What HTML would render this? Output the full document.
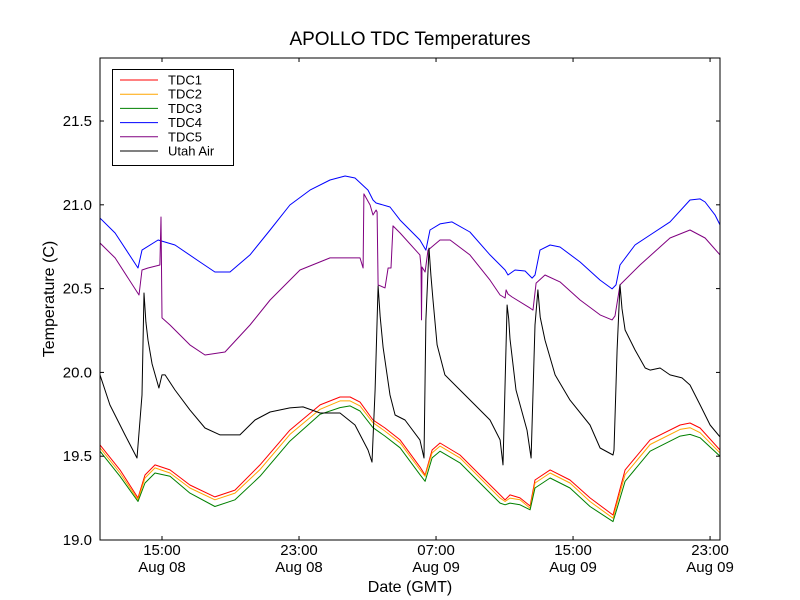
<!DOCTYPE html>
<html><head><meta charset="utf-8"><style>
body{margin:0;background:#fff;}
svg{display:block;font-family:"Liberation Sans","DejaVu Sans",sans-serif;}
</style></head><body>
<svg id="chart" width="800" height="600">
<rect x="0" y="0" width="800" height="600" fill="#fff"/>
<text x="410" y="45" font-size="19" text-anchor="middle">APOLLO TDC Temperatures</text>
<text x="54" y="299" font-size="16" text-anchor="middle" transform="rotate(-90 54 299)">Temperature (C)</text>
<text x="410" y="592" font-size="16" text-anchor="middle">Date (GMT)</text>
<g id="plot"></g>
</svg>
<script>
const xTicks=[15,23,31,39,47];
const xTickTimes=["15:00","23:00","07:00","15:00","23:00"];
const xTickDates=["Aug 08","Aug 08","Aug 09","Aug 09","Aug 09"];
const yTicks=[19.0,19.5,20.0,20.5,21.0,21.5];
const seriesNames=["TDC1","TDC2","TDC3","TDC4","TDC5","Utah Air"];
const tdcTimes=[11.38,12.55,13.60,14.01,14.59,15.47,16.63,18.09,19.26,20.72,22.47,24.23,25.39,25.98,26.56,27.32,28.02,28.90,30.06,30.36,30.77,31.23,32.40,33.57,34.74,35.03,35.32,35.90,36.49,36.78,37.66,38.82,39.99,41.33,41.57,42.04,43.50,45.25,45.83,46.42,47.58];
const tdc1=[19.567,19.418,19.251,19.388,19.448,19.418,19.328,19.257,19.298,19.448,19.656,19.806,19.853,19.853,19.823,19.716,19.668,19.597,19.436,19.388,19.537,19.579,19.507,19.388,19.269,19.239,19.269,19.251,19.203,19.358,19.418,19.358,19.251,19.149,19.239,19.418,19.597,19.686,19.698,19.668,19.537];
const tdc2=[19.55,19.40,19.24,19.37,19.43,19.40,19.31,19.24,19.28,19.42,19.63,19.78,19.83,19.83,19.80,19.70,19.65,19.58,19.42,19.38,19.52,19.56,19.49,19.37,19.25,19.23,19.25,19.24,19.19,19.34,19.40,19.34,19.23,19.13,19.22,19.39,19.57,19.66,19.67,19.64,19.52];
const tdc3=[19.53,19.38,19.23,19.34,19.40,19.38,19.28,19.20,19.24,19.38,19.59,19.75,19.79,19.80,19.77,19.67,19.62,19.55,19.39,19.35,19.49,19.53,19.46,19.34,19.22,19.21,19.22,19.21,19.18,19.31,19.37,19.31,19.20,19.11,19.19,19.35,19.53,19.62,19.63,19.61,19.50];
const tdc4Times=[11.38,12.26,13.60,13.83,14.77,15.76,17.22,18.09,18.97,20.14,21.31,22.47,23.64,24.81,25.69,26.27,27.03,27.32,27.50,28.31,28.90,30.06,30.41,30.65,31.23,31.93,32.98,34.15,35.03,35.20,35.61,36.20,36.61,36.78,37.07,37.66,38.24,39.41,40.58,41.28,41.51,41.74,42.62,43.50,44.66,45.83,46.42,46.71,47.29,47.58];
const tdc4=[20.921,20.832,20.623,20.730,20.790,20.760,20.659,20.599,20.599,20.701,20.850,20.999,21.088,21.148,21.172,21.160,21.088,21.029,21.011,20.987,20.909,20.790,20.730,20.850,20.886,20.898,20.838,20.701,20.611,20.581,20.611,20.605,20.563,20.581,20.730,20.760,20.748,20.659,20.551,20.498,20.522,20.641,20.760,20.820,20.898,21.029,21.035,21.017,20.940,20.880];
const tdc5Times=[11.38,12.26,13.66,13.83,14.18,14.88,14.94,15.00,15.47,16.63,17.51,18.68,20.14,21.31,23.06,24.81,26.56,26.74,26.79,27.15,27.32,27.50,27.56,27.62,28.02,28.20,28.37,28.49,28.90,30.06,30.12,30.15,30.18,30.36,30.53,31.23,31.82,32.98,34.15,34.74,35.03,35.09,35.20,35.44,36.49,36.66,36.84,37.36,38.24,39.41,40.58,41.28,41.45,41.74,42.91,44.66,45.83,46.71,47.58];
const tdc5=[20.772,20.683,20.462,20.611,20.623,20.641,20.927,20.325,20.283,20.164,20.104,20.122,20.283,20.432,20.611,20.683,20.683,20.623,21.065,20.999,20.939,20.969,20.957,20.522,20.504,20.623,20.623,20.874,20.832,20.701,20.635,20.313,20.629,20.599,20.730,20.790,20.790,20.701,20.551,20.462,20.444,20.492,20.468,20.450,20.384,20.372,20.533,20.581,20.540,20.432,20.343,20.313,20.337,20.522,20.641,20.802,20.850,20.802,20.701];
const airTimes=[11.38,11.96,12.84,13.54,13.83,13.95,14.06,14.18,14.42,14.82,15.00,15.18,15.76,16.63,17.51,18.39,19.55,20.43,21.31,22.47,23.23,24.23,25.39,26.27,27.03,27.26,27.44,27.62,27.74,27.91,28.31,28.61,29.19,30.06,30.30,30.41,30.59,30.70,30.82,31.06,31.52,32.40,33.27,34.15,34.74,34.91,35.15,35.24,35.32,35.67,36.31,36.55,36.78,36.95,37.08,37.36,37.95,38.82,39.99,40.58,41.33,41.39,41.57,41.74,41.86,42.04,42.62,43.21,43.50,44.08,44.66,45.36,45.83,46.42,47.00,47.58];
const air=[19.985,19.806,19.627,19.489,19.865,20.474,20.300,20.193,20.050,19.907,19.985,19.985,19.895,19.776,19.668,19.627,19.627,19.716,19.764,19.788,19.794,19.758,19.758,19.686,19.537,19.465,19.895,20.516,20.330,20.150,19.865,19.746,19.716,19.597,19.489,20.313,20.742,20.580,20.432,20.164,19.985,19.895,19.806,19.716,19.597,19.448,20.402,20.320,20.200,19.895,19.656,19.489,20.283,20.492,20.330,20.193,19.985,19.835,19.686,19.549,19.507,19.537,20.134,20.522,20.380,20.253,20.134,20.026,20.014,20.026,19.985,19.967,19.925,19.806,19.686,19.615];

const NS="http://www.w3.org/2000/svg";
const L=100,R=720,T=58,B=540,XMIN=11.38,XMAX=47.58,YMIN=19.0,YMAX=21.876;
function xs(h){return L+(h-XMIN)/(XMAX-XMIN)*(R-L);}
function ys(v){return B-(v-YMIN)/(YMAX-YMIN)*(B-T);}
const plot=document.getElementById('plot');
function mk(tag,attrs){const e=document.createElementNS(NS,tag);for(const k in attrs)e.setAttribute(k,attrs[k]);return e;}
const colors=["#ff0000","#ffa500","#008000","#0000ff","#800080","#000000"];
const sets=[[tdcTimes,tdc1],[tdcTimes,tdc2],[tdcTimes,tdc3],[tdc4Times,tdc4],[tdc5Times,tdc5],[airTimes,air]];
const seriesKeys=["tdc1","tdc2","tdc3","tdc4","tdc5","utah-air"];
const clip=mk('clipPath',{id:'pc'});clip.appendChild(mk('rect',{x:L,y:T,width:R-L,height:B-T}));plot.appendChild(clip);
sets.forEach((s,i)=>{
  const d=s[0].map((t,j)=>(j?'L':'M')+xs(t).toFixed(1)+','+ys(s[1][j]).toFixed(1)).join(' ');
  const p=mk('path',{d:d,fill:'none',stroke:colors[i],'stroke-width':1,'stroke-linejoin':'round','clip-path':'url(#pc)'});
  
  
  plot.appendChild(p);
});
const frame=mk('rect',{x:L,y:T,width:R-L,height:B-T,fill:'none',stroke:'#000','stroke-width':1});


plot.appendChild(frame);
xTicks.forEach((t,i)=>{
  const x=xs(t);
  const g=mk('g',{});
  
  
  g.appendChild(mk('line',{x1:x,y1:B,x2:x,y2:B-4,stroke:'#000'}));
  g.appendChild(mk('line',{x1:x,y1:T,x2:x,y2:T+4,stroke:'#000'}));
  const a=mk('text',{x:x,y:B+15,'font-size':15,'text-anchor':'middle'});a.textContent=xTickTimes[i];g.appendChild(a);
  const b=mk('text',{x:x,y:B+32,'font-size':15,'text-anchor':'middle'});b.textContent=xTickDates[i];g.appendChild(b);
  plot.appendChild(g);
});
yTicks.forEach(v=>{
  const y=ys(v);
  const g=mk('g',{});
  
  
  g.appendChild(mk('line',{x1:L,y1:y,x2:L+4,y2:y,stroke:'#000'}));
  g.appendChild(mk('line',{x1:R,y1:y,x2:R-4,y2:y,stroke:'#000'}));
  const a=mk('text',{x:L-8,y:y+5,'font-size':15,'text-anchor':'end'});a.textContent=v.toFixed(1);g.appendChild(a);
  plot.appendChild(g);
});
const lg=mk('g',{});


lg.appendChild(mk('rect',{x:112.5,y:69.5,width:121,height:96,fill:'#fff',stroke:'#000'}));
seriesNames.forEach((n,i)=>{
  const y=80+i*14.2;
  const e=mk('g',{});
  
  
  e.appendChild(mk('line',{x1:120,y1:y,x2:158,y2:y,stroke:colors[i]}));
  const t=mk('text',{x:168,y:y+4.5,'font-size':13});t.textContent=n;e.appendChild(t);
  lg.appendChild(e);
});
plot.appendChild(lg);
</script>
</body></html>
